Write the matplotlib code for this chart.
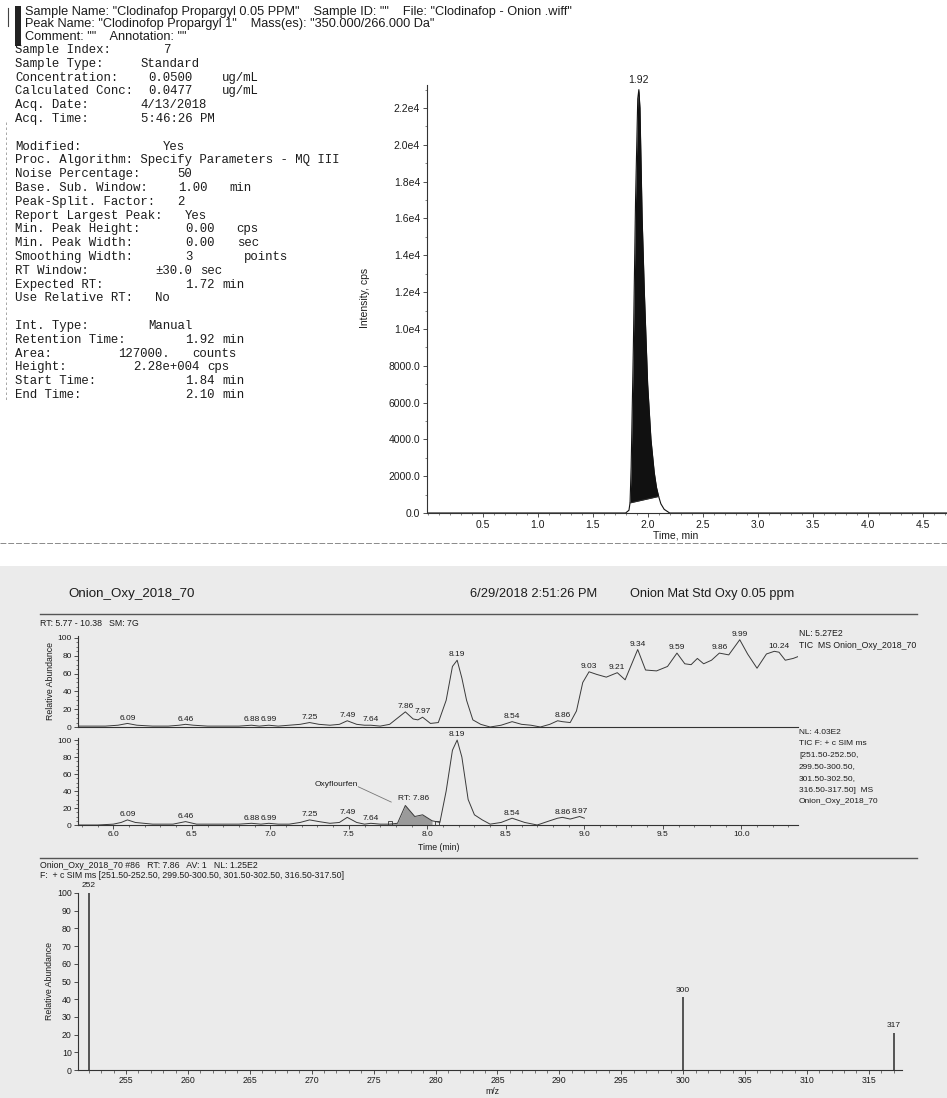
import numpy as np
import matplotlib
matplotlib.use("Agg")
import matplotlib.pyplot as plt
from matplotlib.patches import Rectangle
from matplotlib.lines import Line2D
from matplotlib.ticker import MultipleLocator, FixedLocator, FormatStrFormatter

W, H = 947, 1098
SANS = "Liberation Sans"
MONO = "Liberation Mono"
INK = "#1c1c1c"

# ------------------------------------------------------------------ data
header_lines = [
    'Sample Name: "Clodinafop Propargyl 0.05 PPM"    Sample ID: ""    File: "Clodinafop - Onion .wiff"',
    'Peak Name: "Clodinofop Propargyl 1"    Mass(es): "350.000/266.000 Da"',
    'Comment: ""    Annotation: ""',
]

# (column, text) segments of the monospaced parameter block
info_rows = [
    [(0, "Sample Index:"), (20, "7")],
    [(0, "Sample Type:"), (17, "Standard")],
    [(0, "Concentration:"), (18, "0.0500"), (28, "ug/mL")],
    [(0, "Calculated Conc:"), (18, "0.0477"), (28, "ug/mL")],
    [(0, "Acq. Date:"), (17, "4/13/2018")],
    [(0, "Acq. Time:"), (17, "5:46:26 PM")],
    [],
    [(0, "Modified:"), (20, "Yes")],
    [(0, "Proc. Algorithm: Specify Parameters - MQ III")],
    [(0, "Noise Percentage:"), (22, "50")],
    [(0, "Base. Sub. Window:"), (22, "1.00"), (29, "min")],
    [(0, "Peak-Split. Factor:"), (22, "2")],
    [(0, "Report Largest Peak:"), (23, "Yes")],
    [(0, "Min. Peak Height:"), (23, "0.00"), (30, "cps")],
    [(0, "Min. Peak Width:"), (23, "0.00"), (30, "sec")],
    [(0, "Smoothing Width:"), (23, "3"), (31, "points")],
    [(0, "RT Window:"), (19, "\u00b130.0"), (25, "sec")],
    [(0, "Expected RT:"), (23, "1.72"), (28, "min")],
    [(0, "Use Relative RT:"), (19, "No")],
    [],
    [(0, "Int. Type:"), (18, "Manual")],
    [(0, "Retention Time:"), (23, "1.92"), (28, "min")],
    [(0, "Area:"), (14, "127000."), (24, "counts")],
    [(0, "Height:"), (16, "2.28e+004"), (26, "cps")],
    [(0, "Start Time:"), (23, "1.84"), (28, "min")],
    [(0, "End Time:"), (23, "2.10"), (28, "min")],
]

# MRM chromatogram (top right)
mrm_time = [0.0, 0.5, 1.0, 1.5, 1.80, 1.83, 1.84, 1.85, 1.87, 1.89, 1.91, 1.92,
            1.93, 1.95, 1.97, 2.00, 2.03, 2.06, 2.08, 2.10, 2.12, 2.15, 2.20,
            2.5, 3.0, 3.5, 4.0, 4.5, 4.75]
mrm_int = [0, 0, 0, 0, 0, 150, 550, 2500, 9000, 17000, 22500, 23000,
           22000, 16000, 12000, 7000, 4000, 2200, 1400, 900, 500, 200, 0,
           0, 0, 0, 0, 0, 0]
mrm_peak_label = "1.92"
mrm_peak_rt = 1.92
mrm_start, mrm_end = 1.84, 2.10
mrm_yticks = [0, 2000, 4000, 6000, 8000, 10000, 12000, 14000, 16000, 18000, 20000, 22000]
mrm_yticklabels = ["0.0", "2000.0", "4000.0", "6000.0", "8000.0", "1.0e4", "1.2e4",
                   "1.4e4", "1.6e4", "1.8e4", "2.0e4", "2.2e4"]
mrm_xticks = [0.5, 1.0, 1.5, 2.0, 2.5, 3.0, 3.5, 4.0, 4.5]

# TIC MS chromatogram (bottom, upper panel)
tic_time = [5.77, 5.85, 5.95, 6.03, 6.09, 6.15, 6.25, 6.35, 6.42, 6.46, 6.51, 6.60,
            6.70, 6.80, 6.88, 6.93, 6.99, 7.05, 7.12, 7.19, 7.25, 7.31, 7.38, 7.44,
            7.49, 7.55, 7.60, 7.64, 7.70, 7.76, 7.81, 7.86, 7.91, 7.94, 7.97, 8.02,
            8.07, 8.12, 8.16, 8.19, 8.22, 8.25, 8.29, 8.34, 8.40, 8.47, 8.54, 8.60,
            8.66, 8.72, 8.78, 8.83, 8.86, 8.91, 8.95, 8.99, 9.03, 9.08, 9.14, 9.21,
            9.26, 9.30, 9.34, 9.39, 9.46, 9.53, 9.59, 9.64, 9.68, 9.72, 9.76, 9.81,
            9.86, 9.92, 9.99, 10.04, 10.10, 10.16, 10.21, 10.24, 10.28, 10.33, 10.36]
tic_ab = [1, 1, 1, 2, 4, 2, 1, 1, 2, 3, 2, 1,
          1, 1, 2, 1, 2, 1, 2, 3, 5, 3, 2, 3,
          7, 3, 2, 2, 1, 3, 10, 17, 9, 8, 11, 4,
          5, 30, 68, 75, 55, 30, 8, 3, 0, 2, 6, 3,
          2, 0, 3, 7, 6, 5, 18, 50, 62, 59, 56, 61,
          53, 70, 87, 64, 63, 68, 83, 71, 70, 77, 71, 75,
          83, 81, 98, 82, 66, 82, 85, 84, 75, 77, 79]
tic_labels = ["6.09", "6.46", "6.88", "6.99", "7.25", "7.49", "7.64", "7.86", "7.97",
              "8.19", "8.54", "8.86", "9.03", "9.21", "9.34", "9.59", "9.86", "9.99", "10.24"]

# TIC SIM chromatogram (bottom, lower panel)
sim_time = [5.77, 5.90, 6.00, 6.05, 6.09, 6.14, 6.25, 6.38, 6.46, 6.53, 6.65, 6.80,
            6.88, 6.94, 6.99, 7.05, 7.12, 7.19, 7.25, 7.31, 7.38, 7.44, 7.49, 7.55,
            7.60, 7.64, 7.70, 7.76, 7.81, 7.86, 7.92, 7.97, 8.03, 8.08, 8.12, 8.16,
            8.19, 8.22, 8.26, 8.30, 8.35, 8.40, 8.47, 8.54, 8.62, 8.70, 8.78, 8.83,
            8.86, 8.91, 8.97, 9.00]
sim_ab = [0, 0, 1, 3, 6, 3, 1, 1, 4, 1, 1, 1,
          2, 1, 2, 1, 1, 3, 6, 4, 2, 3, 9, 3,
          1, 2, 1, 1, 2, 23, 10, 12, 5, 3, 40, 88,
          100, 80, 30, 12, 6, 1, 3, 8, 3, 0, 5, 8,
          9, 7, 10, 8]
sim_labels = ["6.09", "6.46", "6.88", "6.99", "7.25", "7.49", "7.64",
              "8.19", "8.54", "8.86", "8.97"]
sim_fill_start, sim_fill_end = 7.76, 8.06
sim_rt_label = "RT: 7.86"
sim_compound = "Oxyflourfen"

tic_nl = ["NL: 5.27E2", "TIC  MS Onion_Oxy_2018_70"]
sim_nl = ["NL: 4.03E2", "TIC F: + c SIM ms", "[251.50-252.50,", "299.50-300.50,",
          "301.50-302.50,", "316.50-317.50]  MS", "Onion_Oxy_2018_70"]

# Mass spectrum
ms_mz = [252, 300, 317]
ms_ab = [100, 41, 21]
ms_header = ["Onion_Oxy_2018_70 #86   RT: 7.86   AV: 1   NL: 1.25E2",
             "F:  + c SIM ms [251.50-252.50, 299.50-300.50, 301.50-302.50, 316.50-317.50]"]

bottom_header = ["Onion_Oxy_2018_70", "6/29/2018 2:51:26 PM", "Onion Mat Std Oxy 0.05 ppm"]
rt_range_text = "RT: 5.77 - 10.38   SM: 7G"

# ------------------------------------------------------------------ figure
fig = plt.figure(figsize=(W / 100, H / 100), dpi=100)
fig.patch.set_facecolor("white")


def fx(x):
    return x / W


def fy(y):
    return 1 - y / H


def add_ax(l, t, r, b):
    return fig.add_axes([l / W, 1 - b / H, (r - l) / W, (b - t) / H])


def ftext(x, y, s, **kw):
    kw.setdefault("color", INK)
    kw.setdefault("family", SANS)
    kw.setdefault("va", "center")
    fig.text(fx(x), fy(y), s, **kw)


# gray lower panel background (drawn beneath everything)
fig.patches.append(Rectangle((0, 0), 1, fy(566), transform=fig.transFigure,
                             facecolor="#ebebeb", edgecolor="none", zorder=-10))

# ---------------- top-left header and parameters
fig.patches.append(Rectangle((fx(15), fy(46)), 6 / W, 40 / H, transform=fig.transFigure,
                             facecolor="#222222", edgecolor="none", zorder=1))
fig.lines.append(Line2D([fx(8), fx(8)], [fy(8), fy(26)], transform=fig.transFigure,
                        color="#444444", lw=0.8))
fig.lines.append(Line2D([fx(6), fx(6)], [fy(122), fy(400)], transform=fig.transFigure,
                        color="#999999", lw=0.6, ls=(0, (3, 3))))
for i, line in enumerate(header_lines):
    ftext(25, 12 + i * 12.5, line, fontsize=9.2)

CW = 7.39
for i, row in enumerate(info_rows):
    for col, txt in row:
        ftext(15 + col * CW, 50 + i * 13.8, txt, family=MONO, fontsize=8.9)

# ---------------- MRM chromatogram
ax0 = add_ax(427, 85, 947, 513)
t = np.array(mrm_time)
inten = np.array(mrm_int)
ax0.plot(t, inten, color="#111111", lw=0.8, clip_on=False, solid_joinstyle="round")
mask = (t >= mrm_start) & (t <= mrm_end)
base = np.interp(t[mask], [mrm_start, mrm_end],
                 [np.interp(mrm_start, t, inten), np.interp(mrm_end, t, inten)])
ax0.fill_between(t[mask], base, inten[mask], color="#111111", lw=0)
ax0.plot([mrm_start, mrm_end], [np.interp(mrm_start, t, inten), np.interp(mrm_end, t, inten)],
         color="#333333", lw=0.6)
ax0.text(mrm_peak_rt, np.interp(mrm_peak_rt, t, inten) + 250, mrm_peak_label,
         ha="center", va="bottom", fontsize=7.5, family=SANS, color=INK, clip_on=False)
ax0.set_xlim(-0.005, 4.72)
ax0.set_ylim(0, 23250)
ax0.yaxis.set_major_locator(FixedLocator(mrm_yticks))
ax0.set_yticklabels(mrm_yticklabels)
ax0.yaxis.set_minor_locator(MultipleLocator(1000))
ax0.xaxis.set_major_locator(FixedLocator(mrm_xticks))
ax0.xaxis.set_major_formatter(FormatStrFormatter("%.1f"))
ax0.xaxis.set_minor_locator(MultipleLocator(0.1))
for s in ("top", "right"):
    ax0.spines[s].set_visible(False)
for s in ("left", "bottom"):
    ax0.spines[s].set_color("#333333")
    ax0.spines[s].set_linewidth(0.8)
ax0.tick_params(which="major", length=3, width=0.6, colors="#333333", labelsize=7.5,
                labelcolor=INK, pad=2)
ax0.tick_params(which="minor", length=1.5, width=0.5, colors="#555555")
for lab in ax0.get_xticklabels() + ax0.get_yticklabels():
    lab.set_family(SANS)
ax0.set_facecolor("none")
ftext(365, 298, "Intensity, cps", fontsize=7.5, rotation=90, ha="center")
ftext(676, 536, "Time, min", fontsize=7.5, ha="center")
fig.lines.append(Line2D([0, 1], [fy(543), fy(543)], transform=fig.transFigure,
                        color="#8a8a8a", lw=0.7, ls=(0, (6, 2))))

# ---------------- bottom header
ftext(68, 594, bottom_header[0], fontsize=9.6)
ftext(470, 594, bottom_header[1], fontsize=9.3)
ftext(630, 594, bottom_header[2], fontsize=9.2)
for yl in (614, 858):
    fig.lines.append(Line2D([fx(40), fx(917)], [fy(yl), fy(yl)], transform=fig.transFigure,
                            color="#555555", lw=1.0))
ftext(40, 624, rt_range_text, fontsize=6.3)


def style_chrom(ax):
    ax.set_facecolor("none")
    for s in ("top", "right"):
        ax.spines[s].set_visible(False)
    for s in ("left", "bottom"):
        ax.spines[s].set_color("#333333")
        ax.spines[s].set_linewidth(0.8)
    ax.yaxis.set_major_locator(MultipleLocator(20))
    ax.yaxis.set_minor_locator(MultipleLocator(5))
    ax.tick_params(which="major", length=3, width=0.6, colors="#333333", labelsize=6,
                   labelcolor=INK, pad=1.5)
    ax.tick_params(which="minor", length=1.5, width=0.5, colors="#444444")


def peak_labels(ax, times, vals, labels, dy=2.0):
    times = np.array(times)
    vals = np.array(vals)
    for lab in labels:
        lt = float(lab)
        sel = np.abs(times - lt) <= 0.03
        top = vals[sel].max() if sel.any() else np.interp(lt, times, vals)
        ax.text(lt, top + dy, lab, ha="center", va="bottom", fontsize=6,
                family=SANS, color=INK, clip_on=False)


XL = (5.775, 10.361)
ax1 = add_ax(78, 636, 798, 727)
ax1.plot(tic_time, tic_ab, color="#3a3a3a", lw=0.7, solid_joinstyle="round")
peak_labels(ax1, tic_time, tic_ab, tic_labels)
ax1.set_xlim(*XL)
ax1.set_ylim(0, 102.2)
style_chrom(ax1)
ax1.xaxis.set_major_locator(MultipleLocator(0.5))
ax1.xaxis.set_minor_locator(MultipleLocator(0.1))
ax1.tick_params(axis="x", which="both", length=0, labelbottom=False)
ax1.set_ylabel("Relative Abundance", fontsize=6.3, family=SANS, color=INK, labelpad=2)

ax2 = add_ax(78, 738, 798, 825)
st = np.array(sim_time)
sa = np.array(sim_ab)
ax2.plot(st, sa, color="#3a3a3a", lw=0.7, solid_joinstyle="round")
fm = (st >= sim_fill_start) & (st <= sim_fill_end)
ax2.fill_between(st[fm], 0, sa[fm], color="#9a9a9a", lw=0)
ax2.plot([sim_fill_start, sim_fill_end], [2, 2], ls="none", marker="s", ms=3.5,
         mfc="none", mec="#333333", mew=0.6)
peak_labels(ax2, sim_time, sim_ab, sim_labels)
ax2.text(7.91, 27, sim_rt_label, ha="center", va="bottom", fontsize=6, family=SANS, color=INK)
ax2.text(7.42, 48, sim_compound, ha="center", va="center", fontsize=6, family=SANS, color=INK)
ax2.plot([7.56, 7.77], [45, 27], color="#777777", lw=0.6)
ax2.set_xlim(*XL)
ax2.set_ylim(0, 102.4)
style_chrom(ax2)
ax2.xaxis.set_major_locator(MultipleLocator(0.5))
ax2.xaxis.set_minor_locator(MultipleLocator(0.1))
ax2.xaxis.set_major_formatter(FormatStrFormatter("%.1f"))
for lab in ax1.get_yticklabels() + ax2.get_yticklabels() + ax2.get_xticklabels():
    lab.set_family(SANS)
ftext(439, 848, "Time (min)", fontsize=6.3, ha="center")

for i, s in enumerate(tic_nl):
    ftext(799, 633 + i * 12, s, fontsize=6.3)
for i, s in enumerate(sim_nl):
    ftext(799, 732 + i * 11.6, s, fontsize=6.0)

# ---------------- mass spectrum
for i, s in enumerate(ms_header):
    ftext(40, 865 + i * 11, s, fontsize=6.3)
ax3 = add_ax(78, 893, 902, 1070)
ax3.vlines(ms_mz, 0, ms_ab, color="#2a2a2a", lw=1.1)
for mz, ab in zip(ms_mz, ms_ab):
    ax3.text(mz, ab + 2, str(mz), ha="center", va="bottom", fontsize=6,
             family=SANS, color=INK, clip_on=False)
ax3.set_xlim(251.12, 317.68)
ax3.set_ylim(0, 100)
ax3.set_facecolor("none")
for s in ("top", "right"):
    ax3.spines[s].set_visible(False)
for s in ("left", "bottom"):
    ax3.spines[s].set_color("#333333")
    ax3.spines[s].set_linewidth(0.8)
ax3.yaxis.set_major_locator(MultipleLocator(10))
ax3.xaxis.set_major_locator(MultipleLocator(5))
ax3.xaxis.set_minor_locator(MultipleLocator(1))
ax3.tick_params(which="major", length=3, width=0.6, colors="#333333", labelsize=6.3,
                labelcolor=INK, pad=1.5)
ax3.tick_params(which="minor", length=2, width=0.5, colors="#444444")
for lab in ax3.get_xticklabels() + ax3.get_yticklabels():
    lab.set_family(SANS)
ax3.set_ylabel("Relative Abundance", fontsize=6.3, family=SANS, color=INK, labelpad=2)
ftext(492, 1092, "m/z", fontsize=6.3, ha="center")

fig.savefig("out.png", dpi=100, facecolor=fig.get_facecolor())
